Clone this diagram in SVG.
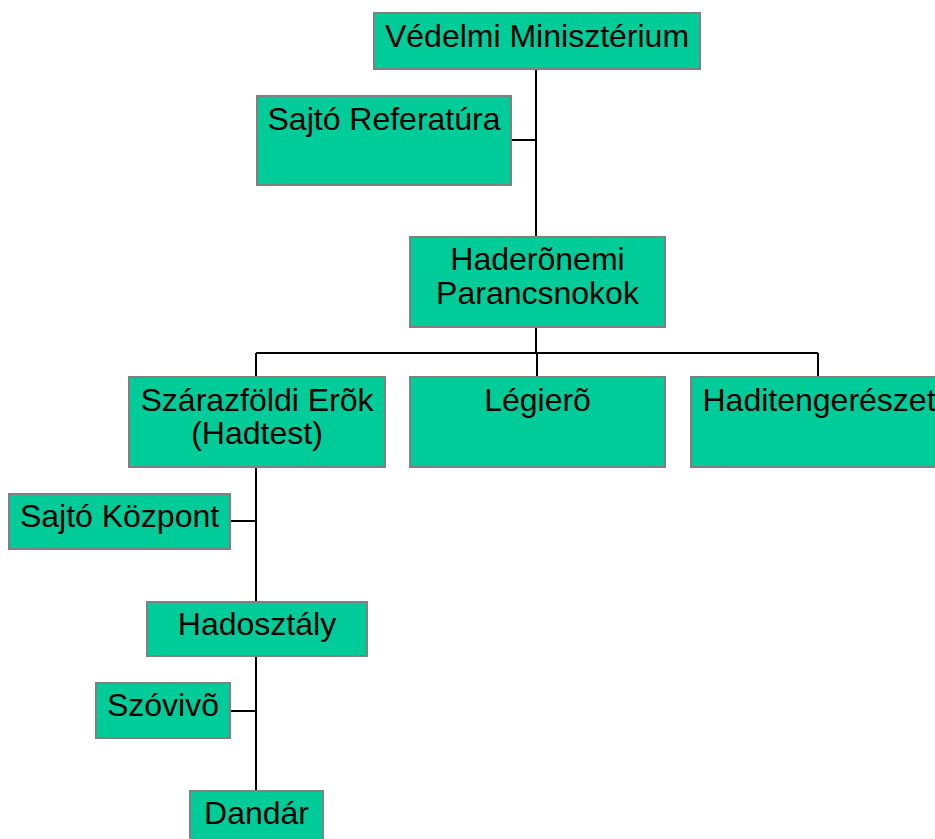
<svg xmlns="http://www.w3.org/2000/svg" width="935" height="839" viewBox="0 0 935 839">
<style>
.box{fill:#00CC99;stroke:#808080;stroke-width:2}
.t{font-family:"Liberation Sans",Arial,sans-serif;font-size:32px;fill:#000;text-anchor:middle}
.c{stroke:#000;stroke-width:2;fill:none}
</style>
<rect width="935" height="839" fill="#fff"/>
<g id="connectors">
<path class="c" d="M536,69V237M511,140H536"/>
<path class="c" d="M536,327V353M256,353H818M256,353V377M537,353V377M818,353V377"/>
<path class="c" d="M256,467V602M230,521H256"/>
<path class="c" d="M256,656V791M230,711H256"/>
</g>
<g id="n-vm"><rect class="box" x="374" y="13" width="326" height="56"/><text class="t" x="537" y="47">Védelmi Minisztérium</text></g>
<g id="n-sr"><rect class="box" x="257" y="96" width="254" height="89"/><text class="t" x="384" y="130">Sajtó Referatúra</text></g>
<g id="n-hp"><rect class="box" x="410" y="237" width="255" height="90"/><text class="t" x="537.5" y="270">Haderõnemi</text><text class="t" x="537.5" y="304">Parancsnokok</text></g>
<g id="n-sze"><rect class="box" x="129" y="377" width="256" height="90"/><text class="t" x="257" y="411">Szárazföldi Erõk</text><text class="t" x="257" y="444">(Hadtest)</text></g>
<g id="n-le"><rect class="box" x="410" y="377" width="255" height="90"/><text class="t" x="537.5" y="411">Légierõ</text></g>
<g id="n-ht"><rect class="box" x="691" y="377" width="256" height="90"/><text class="t" x="819" y="411">Haditengerészet</text></g>
<g id="n-sk"><rect class="box" x="9" y="494" width="221" height="55"/><text class="t" x="119.5" y="527">Sajtó Központ</text></g>
<g id="n-ho"><rect class="box" x="147" y="602" width="220" height="54"/><text class="t" x="257" y="635">Hadosztály</text></g>
<g id="n-sz"><rect class="box" x="96" y="683" width="134" height="55"/><text class="t" x="163" y="716">Szóvivõ</text></g>
<g id="n-da"><rect class="box" x="190" y="791" width="133" height="56"/><text class="t" x="256.5" y="824">Dandár</text></g>
</svg>
